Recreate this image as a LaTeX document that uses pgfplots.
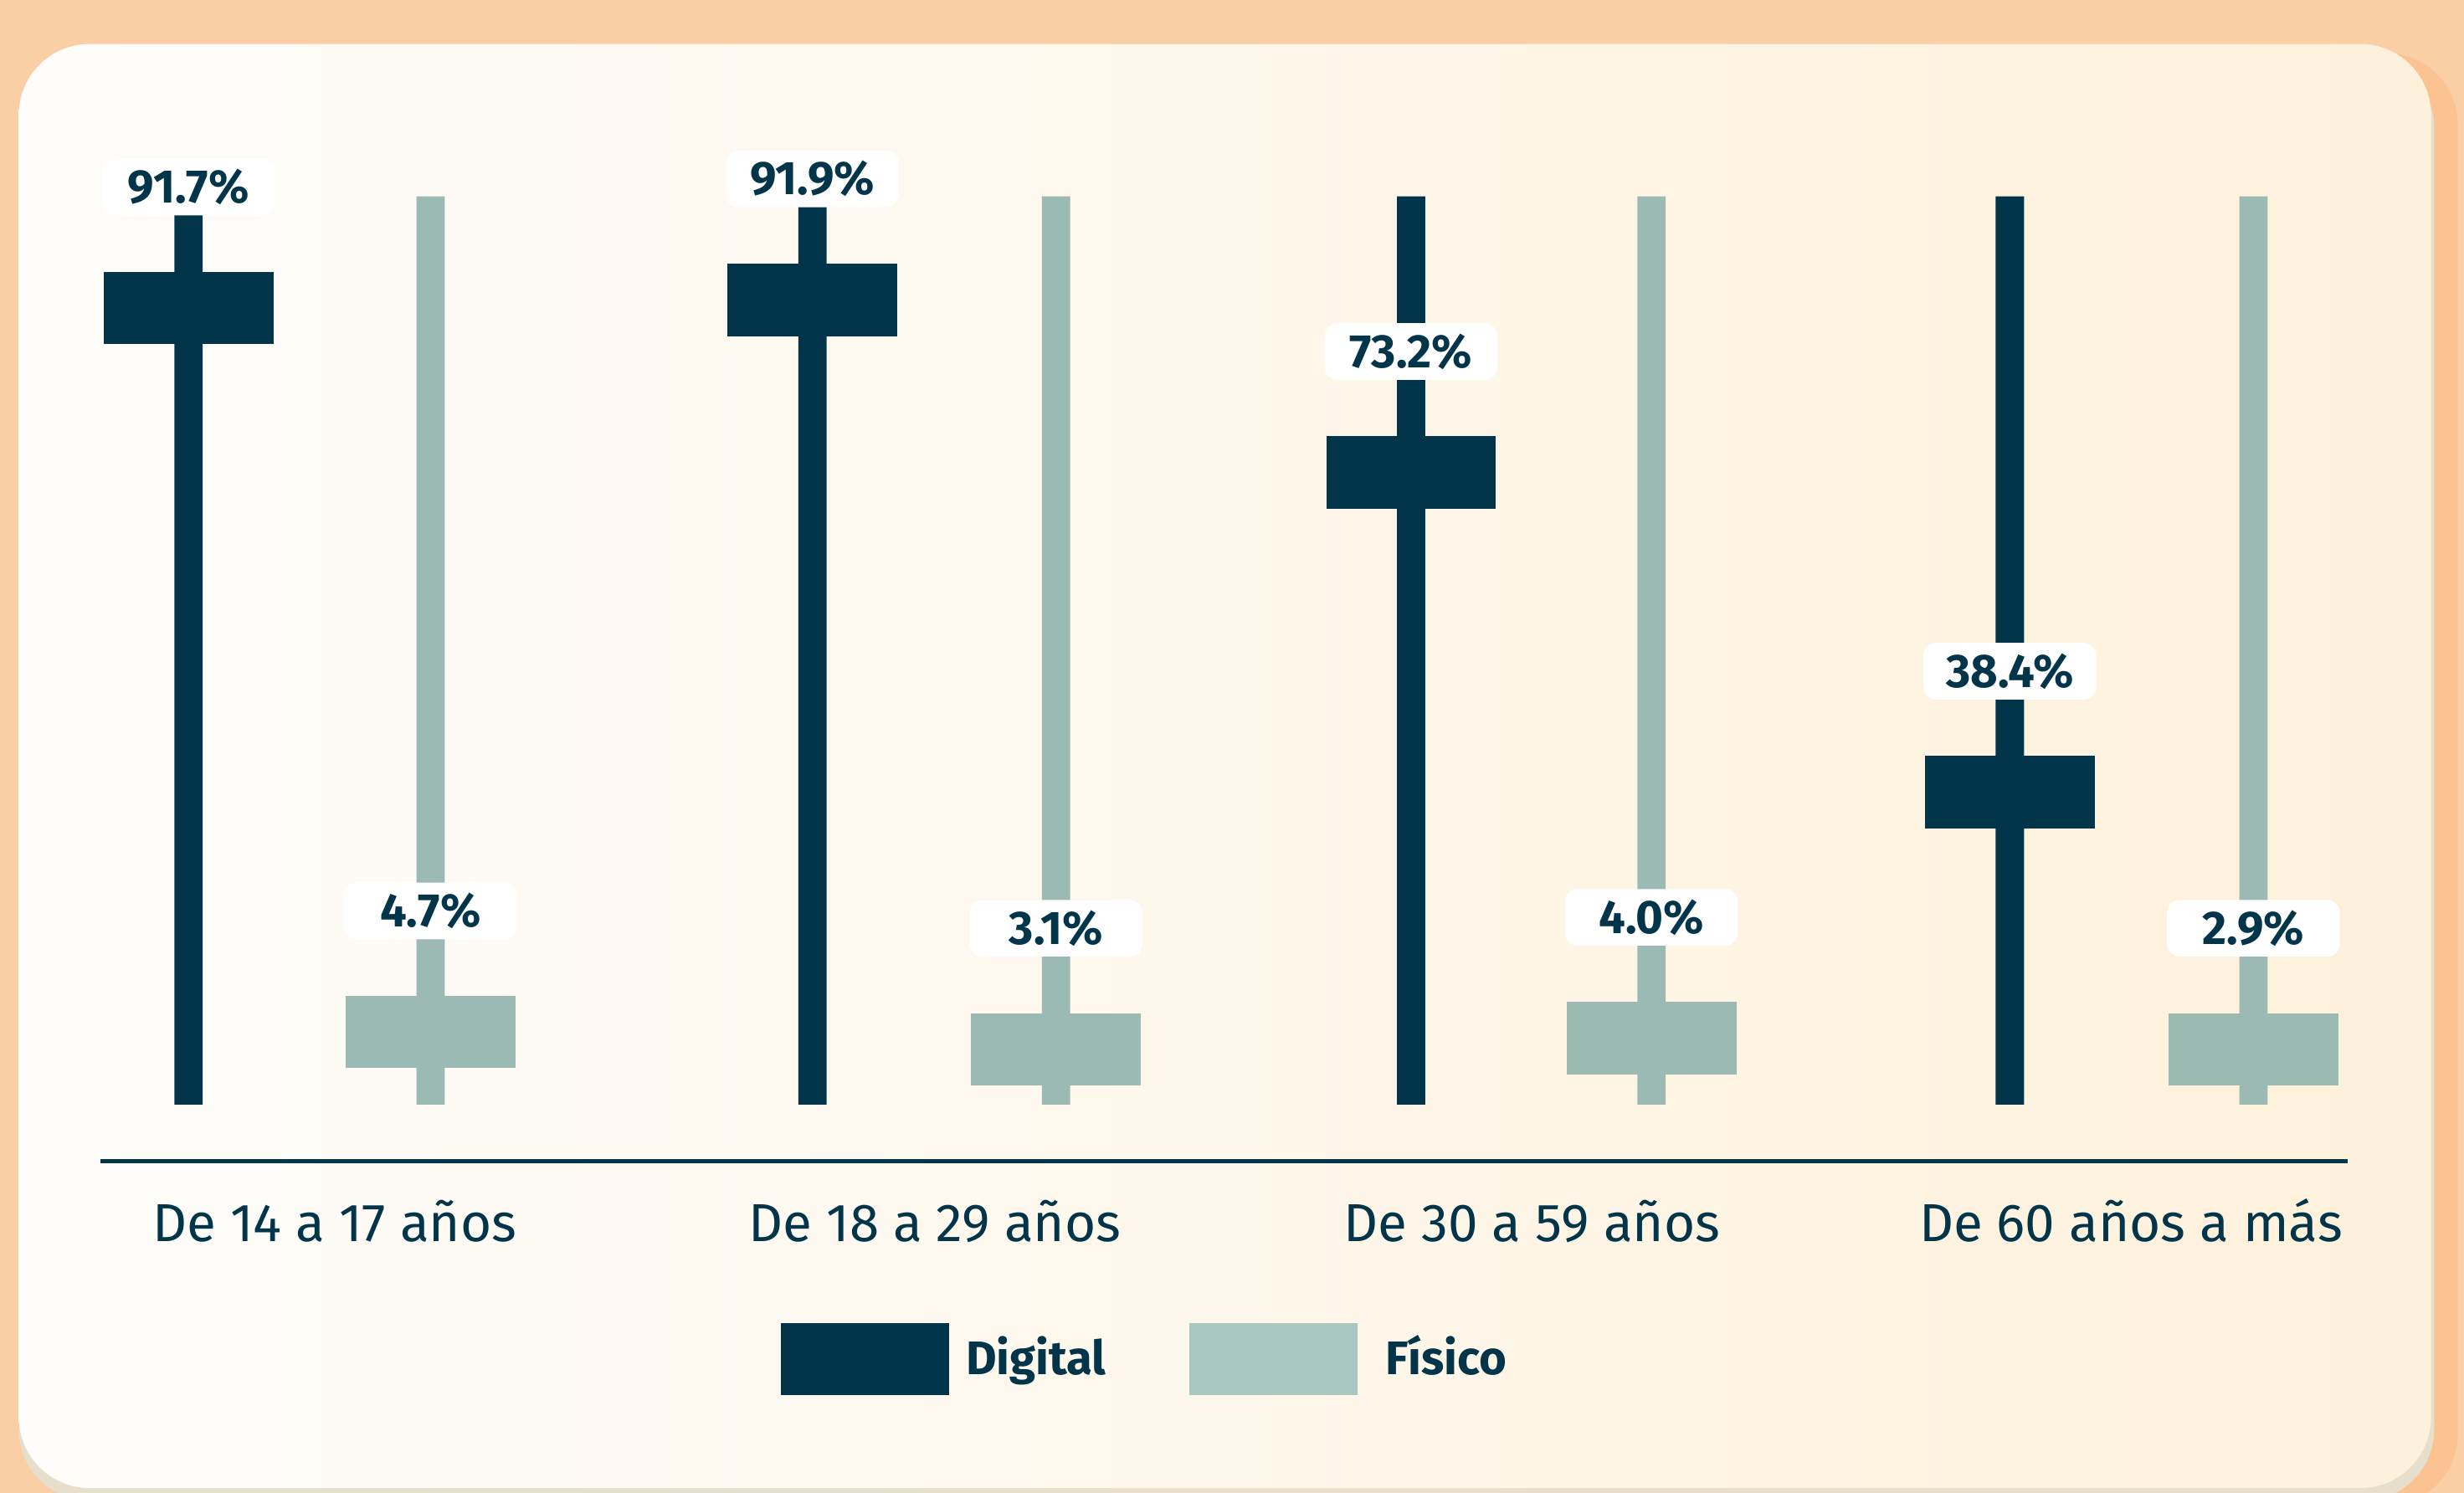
\documentclass[border=0pt]{standalone}
\usepackage{pgfplots}
\pgfplotsset{compat=1.18}
\usepackage{pgfplotstable}
\usepackage{fontspec}
\setmainfont{Fira Sans}
\definecolor{navy}{HTML}{02354A}
\definecolor{tealc}{HTML}{9BBAB3}
\definecolor{tealL}{HTML}{AAC8BF}
\definecolor{orangebg}{HTML}{FBCFA5}
\definecolor{orangedk}{HTML}{FAC391}
\definecolor{shadowc}{HTML}{E6DFCB}
\definecolor{cardL}{HTML}{FEFDFB}
\definecolor{cardR}{HTML}{FEF1DB}

\pgfplotstableread{
x pos val top
120 87.7 91.7 100
517 88.6 91.9 100
898 69.6 73.2 100
1279 34.4 38.4 100
}\digital
\pgfplotstableread{
x pos val top
274 8.0 4.7 100
672 6.1 3.1 100
1051 7.3 4.0 100
1434 6.1 2.9 100
}\fisico

\pgfdeclareplotmark{hbar}{\pgfpathrectangle{\pgfpoint{-16.2pt}{-6.9pt}}{\pgfpoint{32.4pt}{13.8pt}}\pgfusepathqfill}

\pgfplotsset{valuelabels/.style={
  nodes near coords={\pgfmathprintnumber[fixed,fixed zerofill,precision=1,assume math mode=true]{\pgfplotspointmeta}\%},
  nodes near coords align={center},
  every node near coord/.append style={anchor=center, yshift=23.1pt, fill=white, rounded corners=2.4pt,
     minimum width=33pt, minimum height=10.8pt, inner sep=0pt,
     font=\bfseries\fontsize{9}{9}\selectfont, text=navy},
}}

\begin{document}
\begin{tikzpicture}
\begin{scope}[shift={(-19.2pt,221.7pt)}, x=0.3pt, y=-0.3pt]
  \fill[orangebg] (0,0) rectangle (1568,950);
  \fill[orangedk, rounded corners=13.5pt] (30,34) rectangle (1564,958);
  \fill[shadowc, rounded corners=13.5pt] (12,36) rectangle (1549,955);
  \shade[left color=cardL, right color=cardR, rounded corners=13.5pt] (12,28) rectangle (1547,947);
  % legend
  \fill[navy] (497,842) rectangle (604,888);
  \node[anchor=base west, text=navy, font=\bfseries\fontsize{9}{9}\selectfont, inner sep=0pt] at (614,875) {Digital};
  \fill[tealL] (757,842) rectangle (864,888);
  \node[anchor=base west, text=navy, font=\bfseries\fontsize{9}{9}\selectfont, inner sep=0pt] at (881,875) {Físico};
\end{scope}
\begin{axis}[
  at={(0,0)}, anchor=south west,
  x=0.3pt, y=1.734pt,
  xmin=64, xmax=1494, ymin=-6.23, ymax=100,
  clip=false,
  axis x line*=bottom, axis y line=none,
  x axis line style={navy, line width=0.85pt},
  xtick={213,595,975,1356},
  xticklabels={De 14 a 17 años, De 18 a 29 años, De 30 a 59 años, De 60 años a más},
  major tick length=0pt,
  xticklabel style={font=\fontsize{10.2}{12}\selectfont, text=navy, anchor=base, yshift=-15.3pt},
]
\addplot[ybar, bar width=5.4pt, fill=navy, draw=none] table[x=x, y=top] {\digital};
\addplot[ybar, bar width=5.4pt, fill=tealc, draw=none] table[x=x, y=top] {\fisico};
\addplot[only marks, mark=hbar, mark options={fill=navy, draw=none}, point meta=explicit, valuelabels] table[x=x, y=pos, meta=val] {\digital};
\addplot[only marks, mark=hbar, mark options={fill=tealc, draw=none}, point meta=explicit, valuelabels] table[x=x, y=pos, meta=val] {\fisico};
\end{axis}
\begin{scope}[shift={(-19.2pt,221.7pt)}, x=0.3pt, y=-0.3pt]
  \pgfresetboundingbox
  \useasboundingbox (0,0) rectangle (1568,950);
\end{scope}
\end{tikzpicture}
\end{document}
